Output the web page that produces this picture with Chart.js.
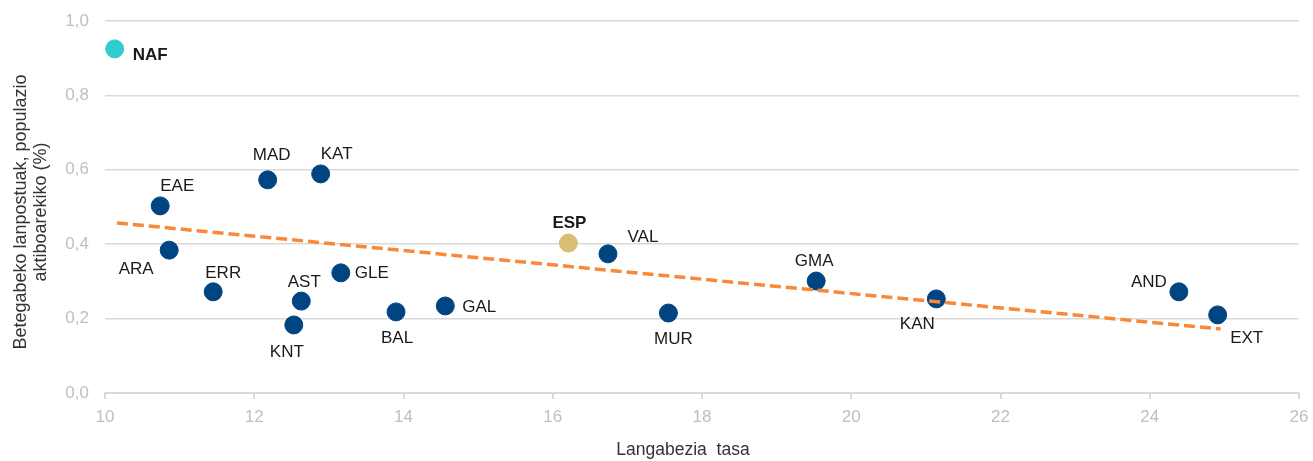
<!DOCTYPE html>
<html>
<head>
<meta charset="utf-8">
<script src="https://cdn.jsdelivr.net/npm/chart.js@4.4.1/dist/chart.umd.min.js"></script>
<style>
    html, body { margin: 0; padding: 0; background: #fff; }
    #wrap { width: 1313px; height: 461px; }
</style>
</head>
<body>
<div id="wrap"><canvas id="myChart" width="1313" height="461"></canvas></div>
<script>
// regions and their values (x: unemployment rate, y: vacancies %)
var regions = ['NAF', 'EAE', 'ARA', 'ERR', 'MAD', 'KAT', 'AST', 'KNT', 'GLE',
               'BAL', 'GAL', 'ESP', 'VAL', 'MUR', 'GMA', 'KAN', 'AND', 'EXT'];
var unemployment = [10.13, 10.74, 10.86, 11.45, 12.18, 12.89, 12.63, 12.53, 13.16,
                    13.90, 14.56, 16.21, 16.74, 17.55, 19.53, 21.14, 24.39, 24.91];
var vacancies = [0.925, 0.503, 0.384, 0.272, 0.573, 0.589, 0.247, 0.183, 0.323,
                 0.218, 0.234, 0.403, 0.374, 0.215, 0.301, 0.253, 0.272, 0.210];
// trend line ends
var trendX = [10.16, 24.95];
var trendY = [0.457, 0.172];

var navy = '#004481';
var teal = '#2DCCCD';
var sand = '#D8BE75';
var orange = '#F7893B';
var font = '"Liberation Sans", Arial, sans-serif';

// where each label sits relative to its point
var labelPos = {
    NAF: { dx: 18, dy: 6, align: 'left' },
    EAE: { dx: 17, dy: -20, align: 'center' },
    ARA: { dx: -33, dy: 19, align: 'center' },
    ERR: { dx: 10, dy: -19, align: 'center' },
    MAD: { dx: 4, dy: -25, align: 'center' },
    KAT: { dx: 16, dy: -20, align: 'center' },
    AST: { dx: 3, dy: -19, align: 'center' },
    KNT: { dx: -7, dy: 27, align: 'center' },
    GLE: { dx: 14, dy: 0, align: 'left' },
    BAL: { dx: 1, dy: 26, align: 'center' },
    GAL: { dx: 17, dy: 1, align: 'left' },
    ESP: { dx: 1, dy: -20, align: 'center' },
    VAL: { dx: 35, dy: -17, align: 'center' },
    MUR: { dx: 5, dy: 26, align: 'center' },
    GMA: { dx: -2, dy: -20, align: 'center' },
    KAN: { dx: -19, dy: 25, align: 'center' },
    AND: { dx: -30, dy: -10, align: 'center' },
    EXT: { dx: 29, dy: 23, align: 'center' }
};

var points = [];
var colors = [];
for (var i = 0; i < regions.length; i++) {
    points.push({ x: unemployment[i], y: vacancies[i] });
    if (regions[i] === 'NAF') colors.push(teal);
    else if (regions[i] === 'ESP') colors.push(sand);
    else colors.push(navy);
}

var pointLabels = {
    id: 'pointLabels',
    afterDatasetsDraw: function (chart) {
        var ctx = chart.ctx;
        var meta = chart.getDatasetMeta(1);
        ctx.save();
        ctx.textBaseline = 'middle';
        ctx.fillStyle = '#1a1a1a';
        for (var i = 0; i < regions.length; i++) {
            var el = meta.data[i];
            var p = labelPos[regions[i]];
            var bold = regions[i] === 'NAF' || regions[i] === 'ESP';
            ctx.font = (bold ? 'bold ' : '') + '17px ' + font;
            ctx.textAlign = p.align;
            ctx.fillText(regions[i], el.x + p.dx, el.y + p.dy);
        }
        ctx.restore();
    }
};

var axisTitles = {
    id: 'axisTitles',
    afterDraw: function (chart) {
        var ctx = chart.ctx;
        ctx.save();
        ctx.fillStyle = '#333333';
        ctx.font = '17.5px ' + font;
        ctx.textAlign = 'center';
        ctx.textBaseline = 'middle';
        ctx.fillText('Langabezia  tasa', 683, 450);
        ctx.font = '18px ' + font;
        ctx.translate(31, 212);
        ctx.rotate(-Math.PI / 2);
        ctx.fillText('Betegabeko lanpostuak, populazio', 0, -10);
        ctx.fillText('aktiboarekiko (%)', 0, 10);
        ctx.restore();
    }
};

var ctx = document.getElementById('myChart').getContext('2d');
var myChart = new Chart(ctx, {
    type: 'scatter',
    data: {
        datasets: [
            {
                type: 'line',
                data: [{ x: trendX[0], y: trendY[0] }, { x: trendX[1], y: trendY[1] }],
                borderColor: orange,
                borderWidth: 3.5,
                borderDash: [11, 5],
                pointRadius: 0,
                fill: false,
                order: 0
            },
            {
                data: points,
                backgroundColor: colors,
                borderColor: colors,
                pointRadius: 9,
                pointHoverRadius: 9,
                order: 1
            }
        ]
    },
    options: {
        responsive: false,
        animation: false,
        layout: { padding: { top: 21, right: 14, left: 0, bottom: 0 } },
        plugins: {
            legend: { display: false },
            tooltip: { enabled: false }
        },
        scales: {
            x: {
                type: 'linear',
                min: 10,
                max: 26,
                afterFit: function (scale) {
                    scale.height = 68;
                    scale.paddingLeft = 0;
                    scale.paddingRight = 0;
                },
                ticks: {
                    stepSize: 2,
                    color: '#bfbfbf',
                    font: { size: 17, family: font },
                    padding: 8
                },
                grid: {
                    drawOnChartArea: false,
                    drawTicks: true,
                    tickLength: 6,
                    color: '#d9d9d9',
                    lineWidth: 2
                },
                border: { color: '#d9d9d9', width: 2 }
            },
            y: {
                min: 0,
                max: 1,
                afterFit: function (scale) {
                    scale.width = 105;
                    scale.paddingTop = 0;
                    scale.paddingBottom = 0;
                },
                ticks: {
                    stepSize: 0.2,
                    color: '#bfbfbf',
                    font: { size: 17, family: font },
                    padding: 16,
                    callback: function (v) { return v.toFixed(1).replace('.', ','); }
                },
                grid: {
                    drawTicks: false,
                    color: '#d9d9d9',
                    lineWidth: 1.5
                },
                border: { display: false }
            }
        }
    },
    plugins: [pointLabels, axisTitles]
});
</script>
</body>
</html>
